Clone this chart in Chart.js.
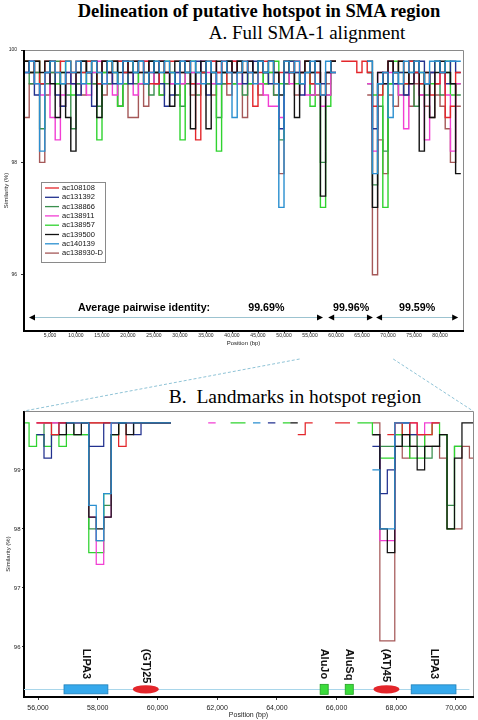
<!DOCTYPE html>
<html><head><meta charset="utf-8">
<script src="https://cdn.jsdelivr.net/npm/chart.js@4.4.1/dist/chart.umd.min.js"></script>
<style>
html,body{margin:0;padding:0;background:#fff;}
body{width:478px;height:720px;position:relative;overflow:hidden;}
.ttl{position:absolute;white-space:nowrap;text-align:center;color:#000;font-family:"Liberation Serif","Times New Roman",serif;}
#t1{left:59px;width:400px;top:2px;font-weight:bold;font-size:18.5px;line-height:18.5px;}
#t2{left:107px;width:400px;top:23px;font-size:19px;line-height:19px;}
#t3{left:95px;width:400px;top:387px;font-size:19.5px;line-height:19.5px;}
#cA{position:absolute;left:0;top:40px;}
#cB{position:absolute;left:0;top:404px;}
#ov{position:absolute;left:0;top:0;pointer-events:none;}
</style></head><body>
<div class="ttl" id="t1">Delineation of putative hotspot in SMA region</div>
<div class="ttl" id="t2">A. Full SMA-1 alignment</div>
<div class="ttl" id="t3">B.&nbsp; Landmarks in hotspot region</div>
<canvas id="cA" width="478" height="326"></canvas>
<canvas id="cB" width="478" height="316"></canvas>
<canvas id="ov" width="478" height="720"></canvas>
<script>
const FONT = '"Liberation Sans", Arial, sans-serif';
const n = null;

// ---- series ----
const seriesNames  = ['ac108108','ac131392','ac138866','ac138911','ac138957','ac139500','ac140139','ac138930-D'];
const seriesColors = ['#e3262b','#22318f','#3a8f4e','#f23ed3','#2fd32f','#111111','#2a8fd0','#a55858'];
const drawOrder    = [2,3,6,4,5,1,0,7];

// ---- Panel A: similarity (%) per 1,000-bp window, windows start at 0 bp ----
const fullWindowStart = 0, fullWindowSize = 1000;
const fullAc108108 = [99.8,99.6,99.8,99.4,99.8,99.8,99.6,99.8,99.8,99.6, 99.8,99.6,99.8,99.8,99.4,99.8,99.6,99.8,99.8,99.6, 99.8,99.8,99.6,99.8,99.4,99.4,99.8,99.6,99.8,99.8, 99.6,99.8,99.4,98.4,99.6,99.8,99.8,99.6,99.8,99.4, 99.8,99.6,99.8,99.6,99.0,99.6,99.8,99.8,99.4,99.6, 99.8,99.6,99.8,99.6,99.8,99.4,99.6,99.2,99.6,99.8, n,99.8,99.8,99.8,99.6,99.8,99.6,99.0,99.2,99.6, 99.8,99.6,99.8,99.4,99.8,99.6,99.4,99.6,99.2,99.4, 99.6,98.8,99.0,99.6];
const fullAc131392 = [99.6,99.8,99.2,99.4,99.6,99.8,99.2,99.0,99.6,99.4, 99.2,99.8,99.6,99.0,99.4,99.8,99.6,99.4,99.8,99.6, 99.4,99.6,99.8,99.6,99.8,99.6,99.4,99.0,99.2,99.6, 99.8,99.6,99.4,99.8,99.6,99.2,99.8,99.4,99.6,99.8, 99.6,99.8,99.4,99.6,99.8,99.8,99.6,99.4,99.6,98.6, 99.6,99.8,99.6,99.2,99.8,99.6,99.8,99.4,99.6,99.8, n,n,n,n,n,n,99.6,98.6,99.4,99.6, 99.8,99.4,99.6,99.2,99.8,99.6,99.8,99.4,99.6,99.8, 99.6,99.4,99.8,99.6];
const fullAc138866 = [99.8,99.4,99.6,98.6,99.4,99.6,99.8,99.4,99.2,98.6, 99.4,99.6,99.8,99.4,99.0,99.6,99.4,99.8,99.0,99.6, 99.6,99.4,99.8,99.6,99.2,99.8,99.6,99.4,99.6,99.2, 99.0,99.4,99.6,99.2,99.6,99.4,99.6,98.8,99.4,99.6, 99.4,99.6,99.2,99.8,99.6,99.4,99.6,99.8,99.2,98.4, 99.4,99.8,99.6,99.4,99.6,99.2,99.4,98.0,99.2,99.6, n,n,n,n,n,n,99.4,97.6,99.0,98.2, 99.4,99.6,99.2,99.4,99.6,99.0,99.4,99.2,99.6,99.4, 99.2,99.6,99.4,99.2];
const fullAc138911 = [99.6,99.8,99.4,99.2,99.6,98.8,98.4,99.2,99.6,99.4, 99.6,99.4,99.2,99.6,99.8,99.4,99.6,99.2,99.4,99.8, 99.6,99.2,99.4,99.8,99.6,99.4,99.8,99.6,99.4,99.6, 99.4,99.8,99.6,99.4,99.8,99.6,99.4,99.6,99.8,99.6, 99.8,99.4,99.6,99.8,99.6,99.4,99.2,99.0,99.0,98.8, 99.6,99.4,99.8,99.6,99.2,99.2,99.6,99.0,99.2,99.6, n,n,n,n,n,n,99.4,98.2,99.6,99.4, 99.6,99.4,99.2,98.6,99.4,99.6,99.2,98.4,99.6,99.4, 99.6,99.2,98.2,99.4];
const fullAc138957 = [99.8,99.6,99.8,99.4,99.6,99.8,99.4,99.6,99.8,99.2, 99.6,99.8,99.4,99.6,98.4,99.6,99.8,99.6,99.0,99.4, 99.8,99.6,99.4,99.6,99.8,99.6,99.2,99.8,99.6,99.4, 98.4,99.6,99.8,99.4,99.6,99.8,99.4,98.2,99.6,99.8, 99.4,99.8,99.6,99.4,99.6,99.8,99.4,99.6,99.8,99.4, 99.6,99.8,99.4,99.6,99.8,99.0,99.6,97.2,99.0,99.8, n,n,n,n,n,n,99.6,99.2,99.4,97.2, 99.4,99.8,99.6,99.4,99.8,99.6,99.6,99.4,99.4,99.8, 99.6,99.8,99.2,99.4];
const fullAc139500 = [99.8,99.6,99.8,99.6,99.8,99.4,98.8,99.6,98.8,98.2, 99.6,99.8,99.6,99.8,98.8,99.8,99.6,99.8,99.6,99.8, 99.6,99.8,99.6,99.4,99.8,99.6,99.8,99.6,99.0,99.8, 99.6,99.8,98.6,99.6,99.8,98.6,99.6,99.8,99.6,99.8, 99.6,99.8,99.6,99.8,99.6,99.8,99.6,99.8,99.6,99.2, 99.8,99.6,98.8,99.6,99.8,99.6,99.8,97.4,99.6,99.8, n,n,n,n,n,n,99.8,97.2,99.6,99.4, 99.8,99.6,99.8,99.6,99.4,99.8,98.2,99.6,98.8,99.6, 99.8,99.6,99.4,97.8];
const fullAc140139 = [99.6,99.8,99.4,98.2,99.6,99.8,99.6,99.4,99.8,99.6, 99.8,99.4,99.6,99.8,99.6,99.4,99.8,99.6,99.4,99.8, 99.8,99.6,99.8,99.4,99.6,99.8,99.6,99.8,99.6,99.4, 99.8,99.6,99.8,99.6,99.4,99.8,99.6,99.4,99.8,99.6, 98.8,99.6,99.8,99.6,99.4,99.8,99.6,99.8,99.4,97.2, 99.8,99.6,99.8,99.4,99.6,99.8,99.4,99.2,99.8,99.6, n,n,n,n,n,n,99.8,97.8,99.4,99.6, 98.8,99.6,99.4,99.8,99.6,99.8,99.6,99.4,99.8,99.8, 99.6,99.8,99.8,99.8];
const fullAc138930D = [98.8,99.4,99.6,98.0,99.2,99.6,99.4,99.0,99.4,99.6, 99.4,99.2,99.6,99.4,99.6,99.2,99.4,99.6,99.0,99.4, 98.8,98.8,99.4,99.0,99.6,99.4,99.2,99.6,99.4,99.2, 99.4,99.6,99.2,99.4,99.6,99.4,99.2,99.6,99.4,99.2, 99.6,99.4,98.8,99.4,99.6,99.2,99.4,99.6,99.2,97.8, 99.4,99.6,99.2,99.4,99.6,99.4,99.2,99.2,99.4,99.6, n,n,n,n,n,n,99.2,96.0,98.4,97.8, 99.2,99.0,99.4,99.2,99.0,99.4,99.2,99.0,98.8,99.2, 99.0,98.6,98.0,99.0];
const fullSeries = [fullAc108108,fullAc131392,fullAc138866,fullAc138911,fullAc138957,fullAc139500,fullAc140139,fullAc138930D];

// ---- Panel B: similarity (%) per 250-bp window, windows start at 55,450 bp ----
const hotWindowStart = 55450, hotWindowSize = 250;
const hotAc108108 = [n,n,99.8,99.8,99.6,99.8,99.8,99.8,99.8,99.8, 99.8,99.8,99.8,99.4,99.8,99.8,99.8,99.8,99.8,99.8, n,n,n,n,n,n,n,n,n,n, n,n,n,n,n,n,n,99.6,99.8,n, n,n,99.8,99.8,n,n,n,n,n,99.6, 99.8,99.6,99.8,99.6,99.6,99.8,n,n,n,n, n];
const hotAc131392 = [n,n,99.6,99.2,99.6,99.8,99.8,99.8,99.8,99.4, 99.4,99.8,99.8,99.8,99.8,99.6,99.8,99.8,99.8,99.8, n,n,n,n,n,n,n,n,n,n, n,n,n,99.8,n,n,n,n,n,n, n,n,n,n,n,n,n,99.4,98.6,99.0, 99.8,99.8,99.6,n,n,n,n,n,n,n, n];
const hotAc138866 = [n,n,99.6,99.8,99.6,99.6,99.8,99.6,99.6,98.0, 97.8,98.4,99.6,99.8,99.8,99.8,99.8,99.8,99.8,99.8, n,n,n,n,n,n,n,n,n,n, n,n,n,n,n,n,n,n,n,n, n,n,n,n,n,n,n,99.6,99.4,99.4, 99.6,99.4,99.6,99.4,99.2,99.4,99.6,98.4,99.4,n, n];
const hotAc138911 = [n,n,99.8,99.8,99.8,99.8,99.8,99.8,99.8,98.2, 97.4,98.2,99.8,99.8,99.8,99.8,99.8,99.8,99.8,99.8, n,n,n,n,n,99.8,n,n,n,n, n,n,n,n,n,n,n,n,n,n, n,n,n,n,n,n,n,99.6,97.8,97.8, 99.8,99.8,99.8,99.6,99.8,99.8,n,n,n,n, n];
const hotAc138957 = [99.8,99.4,99.6,99.4,99.6,99.4,99.6,99.6,99.6,97.6, 97.6,98.6,99.6,99.8,99.8,99.8,99.8,99.8,99.8,99.8, n,n,n,n,n,n,n,n,99.8,99.8, n,n,n,n,n,99.8,n,n,n,n, n,n,n,n,n,99.8,99.8,99.6,99.2,99.2, 99.6,99.8,99.2,99.2,99.6,99.8,99.6,98.0,99.4,n, n];
const hotAc139500 = [n,n,n,n,n,99.6,99.8,99.6,99.8,98.2, 98.0,98.2,99.6,99.8,99.6,99.8,99.8,99.8,99.8,99.8, n,n,n,n,n,n,n,n,n,n, n,n,n,n,n,n,99.8,n,n,n, n,n,n,n,n,n,n,99.6,98.0,97.6, 99.4,99.6,99.4,99.0,99.4,99.4,99.6,98.0,99.2,99.8, 99.8];
const hotAc140139 = [n,n,n,n,n,n,99.8,99.8,99.8,98.4, 97.8,98.6,99.8,99.8,99.8,99.8,99.8,99.8,99.8,99.8, n,n,n,n,n,n,n,n,n,n, n,99.8,n,n,n,n,n,n,n,n, n,n,n,n,n,n,n,99.0,98.0,98.0, 99.8,99.8,n,n,n,n,n,n,n,n, n];
const hotAc138930D = [n,n,99.8,99.8,99.8,99.8,99.8,99.8,99.8,99.8, 99.8,99.8,99.8,99.8,99.8,99.8,99.8,99.8,99.8,99.8, n,n,n,n,n,n,n,n,n,n, n,n,n,n,n,n,n,n,n,n, n,n,n,n,n,n,n,99.8,96.1,96.1, 99.4,99.2,99.4,99.6,99.4,99.4,99.2,98.0,98.0,99.4, 99.2];
const hotSeries = [hotAc108108,hotAc131392,hotAc138866,hotAc138911,hotAc138957,hotAc139500,hotAc140139,hotAc138930D];

// ---- ticks ----
const fullXTicks = [5000,10000,15000,20000,25000,30000,35000,40000,45000,50000,55000,60000,65000,70000,75000,80000];
const fullYTicks = [96,98,100];
const hotXTicks = [56000,58000,60000,62000,64000,66000,68000,70000];
const hotYTicks = [96,97,98,99];

// ---- panel A annotation ----
const identityHeader = 'Average pairwise identity:';
const identityHeaderX = 23100;
const identityLabels = ['99.69%','99.96%','99.59%'];
const identityTextX = [46600, 62900, 75600];
const identityFrom = [960, 58500, 67700];
const identityTo = [57500, 67100, 83500];
const identityTextLevel = 95.41, identityArrowLevel = 95.25;

// ---- panel B landmarks ----
const landmarkNames = ['LIPA3','(GT)25','AluJo','AluSq','(AT)45','LIPA3'];
const landmarkStart = [56870, 59175, 65450, 66290, 67235, 68500];
const landmarkEnd   = [58340, 60045, 65720, 66560, 68105, 70000];
const landmarkKind  = ['gene','repeat','alu','alu','repeat','gene'];
const landmarkTrackLevel = 95.28, landmarkLabelLevel = 95.97, landmarkTrackEnd = 70450;

// zoom connector (panel A span shown in panel B)
const zoomFromBp = 53000, zoomToBp = 71000;

function windowsToPoints(vals, start, size){
  const pts = [];
  vals.forEach((v,i)=>{
    const x0 = start + i*size, x1 = x0 + size;
    if (v === null) { pts.push({x:x0, y:null}); return; }
    pts.push({x:x0, y:v}, {x:x1, y:v});
  });
  return pts;
}
function makeDatasets(list, start, size, bw){
  return list.map((vals,k)=>({
    label: seriesNames[k], data: windowsToPoints(vals, start, size),
    borderColor: seriesColors[k], backgroundColor: seriesColors[k],
    borderWidth: bw, pointRadius: 0, order: drawOrder[k], fill: false, spanGaps: false, tension: 0
  }));
}
const fmt = v => Number(v).toLocaleString('en-US');

const framePlugin = {
  id: 'frame',
  afterDatasetsDraw(chart){
    const {ctx, chartArea:a} = chart;
    ctx.save();
    ctx.strokeStyle = '#8a8a8a'; ctx.lineWidth = 1;
    ctx.beginPath(); ctx.moveTo(a.left, a.top + 0.5); ctx.lineTo(a.right + 0.5, a.top + 0.5); ctx.lineTo(a.right + 0.5, a.bottom); ctx.stroke();
    ctx.strokeStyle = '#000'; ctx.lineWidth = 2;
    ctx.beginPath(); ctx.moveTo(a.left, a.top); ctx.lineTo(a.left, a.bottom); ctx.lineTo(a.right + 1, a.bottom); ctx.stroke();
    ctx.restore();
  }
};

const identityPlugin = {
  id: 'identity',
  afterDatasetsDraw(chart){
    const {ctx, scales:{x, y}} = chart;
    ctx.save();
    ctx.font = 'bold 10.7px ' + FONT;
    ctx.textAlign = 'center'; ctx.textBaseline = 'middle'; ctx.fillStyle = '#000';
    const ty = y.getPixelForValue(identityTextLevel);
    ctx.fillText(identityHeader, x.getPixelForValue(identityHeaderX), ty);
    identityLabels.forEach((t,i)=>ctx.fillText(t, x.getPixelForValue(identityTextX[i]), ty));
    const ay = Math.round(y.getPixelForValue(identityArrowLevel)) + 0.5;
    identityFrom.forEach((f,i)=>{
      const x1 = x.getPixelForValue(f), x2 = x.getPixelForValue(identityTo[i]);
      ctx.strokeStyle = '#9cc3d0'; ctx.lineWidth = 1;
      ctx.beginPath(); ctx.moveTo(x1 + 4, ay); ctx.lineTo(x2 - 4, ay); ctx.stroke();
      ctx.fillStyle = '#000';
      ctx.beginPath(); ctx.moveTo(x1, ay); ctx.lineTo(x1 + 6, ay - 3); ctx.lineTo(x1 + 6, ay + 3); ctx.closePath(); ctx.fill();
      ctx.beginPath(); ctx.moveTo(x2, ay); ctx.lineTo(x2 - 6, ay - 3); ctx.lineTo(x2 - 6, ay + 3); ctx.closePath(); ctx.fill();
    });
    ctx.restore();
  }
};

const legendPlugin = {
  id: 'boxLegend',
  afterDraw(chart){
    const ctx = chart.ctx;
    const bx = 41, by = 142, bw = 64, bh = 80;
    ctx.save();
    ctx.fillStyle = '#fff'; ctx.fillRect(bx, by, bw, bh);
    ctx.strokeStyle = '#8a8a8a'; ctx.lineWidth = 1; ctx.strokeRect(bx + 0.5, by + 0.5, bw, bh);
    ctx.font = '7.5px ' + FONT; ctx.textAlign = 'left'; ctx.textBaseline = 'middle';
    seriesNames.forEach((name,i)=>{
      const yy = by + 6 + i*9.3;
      ctx.strokeStyle = seriesColors[i]; ctx.lineWidth = 1.3;
      ctx.beginPath(); ctx.moveTo(bx + 4, yy); ctx.lineTo(bx + 18, yy); ctx.stroke();
      ctx.fillStyle = '#111'; ctx.fillText(name, bx + 21, yy);
    });
    ctx.restore();
  }
};

const landmarkPlugin = {
  id: 'landmarks',
  afterDatasetsDraw(chart){
    const {ctx, scales:{x, y}, chartArea:a} = chart;
    ctx.save();
    const ty = y.getPixelForValue(landmarkTrackLevel);
    ctx.strokeStyle = '#a9d6ea'; ctx.lineWidth = 1;
    ctx.beginPath(); ctx.moveTo(a.left, Math.round(ty) + 0.5); ctx.lineTo(x.getPixelForValue(landmarkTrackEnd), Math.round(ty) + 0.5); ctx.stroke();
    landmarkNames.forEach((name,i)=>{
      const x1 = x.getPixelForValue(landmarkStart[i]), x2 = x.getPixelForValue(landmarkEnd[i]);
      const kind = landmarkKind[i];
      if (kind === 'gene') {
        ctx.fillStyle = '#36a9ec'; ctx.strokeStyle = '#1e7fb8'; ctx.lineWidth = 0.8;
        ctx.fillRect(x1, ty - 4.5, x2 - x1, 9); ctx.strokeRect(x1, ty - 4.5, x2 - x1, 9);
      } else if (kind === 'alu') {
        ctx.fillStyle = '#3cdc3c'; ctx.strokeStyle = '#22a022'; ctx.lineWidth = 0.8;
        ctx.fillRect(x1, ty - 5, x2 - x1, 10); ctx.strokeRect(x1, ty - 5, x2 - x1, 10);
      } else {
        ctx.fillStyle = '#e3262b';
        ctx.beginPath(); ctx.ellipse((x1 + x2)/2, ty, (x2 - x1)/2, 4.2, 0, 0, Math.PI*2); ctx.fill();
      }
      const lx = (x1 + x2)/2, ly = y.getPixelForValue(landmarkLabelLevel);
      ctx.save();
      ctx.translate(lx, ly); ctx.rotate(Math.PI/2);
      ctx.font = 'bold 11px ' + FONT; ctx.fillStyle = '#111';
      ctx.textAlign = 'left'; ctx.textBaseline = 'middle';
      ctx.fillText(name, 0, 0);
      ctx.restore();
    });
    ctx.restore();
  }
};

function axisX(min, max, ticks, o){
  return {
    type:'linear', min, max,
    afterBuildTicks: s => { s.ticks = ticks.map(v=>({value:v})); },
    afterFit: s => { s.height = o.height; },
    ticks:{autoSkip:false, maxRotation:0, minRotation:0, font:{size:o.tickSize, family:FONT}, color:'#222', padding:o.tickPad, callback: v => fmt(v)},
    grid:{drawOnChartArea:false, drawTicks:true, tickLength:o.tickLen, color:'#000', lineWidth:0.8},
    border:{display:false},
    title:{display:true, text:'Position (bp)', font:{size:o.titleSize, family:FONT}, color:'#222', padding:{top:0, bottom:o.titlePad}}
  };
}
function axisY(min, max, ticks, o){
  return {
    type:'linear', min, max,
    afterBuildTicks: s => { s.ticks = ticks.map(v=>({value:v})); },
    afterFit: s => { s.width = o.width; },
    ticks:{font:{size:o.tickSize, family:FONT}, color:'#222', padding:o.tickPad, callback: v => String(v)},
    grid:{drawOnChartArea:false, drawTicks:true, tickLength:o.tickLen, color:'#000', lineWidth:0.8},
    border:{display:false},
    title:{display:true, text:'Similarity (%)', font:{size:o.titleSize, family:FONT}, color:'#222', padding:{top:o.titlePad, bottom:0}}
  };
}

const chartA = new Chart(document.getElementById('cA'), {
  type:'line',
  data:{datasets: makeDatasets(fullSeries, fullWindowStart, fullWindowSize, 1.4)},
  options:{
    responsive:false, animation:false, events:[],
    layout:{padding:{top:10, right:15, left:0, bottom:0}},
    plugins:{legend:{display:false}, tooltip:{enabled:false}},
    scales:{
      x: axisX(0, 84420, fullXTicks, {height:35, tickSize:5, tickPad:0, tickLen:2, titleSize:6, titlePad:19.4}),
      y: axisY(95, 100, fullYTicks, {width:24, tickSize:5, tickPad:4, tickLen:3, titleSize:6, titlePad:2.4})
    }
  },
  plugins:[framePlugin, identityPlugin, legendPlugin]
});

const chartB = new Chart(document.getElementById('cB'), {
  type:'line',
  data:{datasets: makeDatasets(hotSeries, hotWindowStart, hotWindowSize, 1.25)},
  options:{
    responsive:false, animation:false, events:[],
    layout:{padding:{top:7, right:5, left:0, bottom:0}},
    plugins:{legend:{display:false}, tooltip:{enabled:false}},
    scales:{
      x: axisX(55530, 70570, hotXTicks, {height:23, tickSize:7, tickPad:3.8, tickLen:3, titleSize:7, titlePad:0.8}),
      y: axisY(95.15, 100, hotYTicks, {width:24, tickSize:6, tickPad:1.5, tickLen:2, titleSize:6, titlePad:4.4})
    }
  },
  plugins:[framePlugin, landmarkPlugin]
});

// zoom connector lines
(function(){
  const ov = document.getElementById('ov').getContext('2d');
  const offA = 40, offB = 404;
  const yA = offA + chartA.chartArea.bottom + 28;
  const xL = chartA.scales.x.getPixelForValue(zoomFromBp), xR = chartA.scales.x.getPixelForValue(zoomToBp);
  const bTop = offB + chartB.chartArea.top;
  ov.strokeStyle = '#8fc3d6'; ov.lineWidth = 1; ov.setLineDash([3,2]);
  ov.beginPath(); ov.moveTo(xL, yA); ov.lineTo(chartB.chartArea.left, bTop); ov.stroke();
  ov.beginPath(); ov.moveTo(xR, yA); ov.lineTo(chartB.chartArea.right, bTop); ov.stroke();
})();
</script>
</body></html>
